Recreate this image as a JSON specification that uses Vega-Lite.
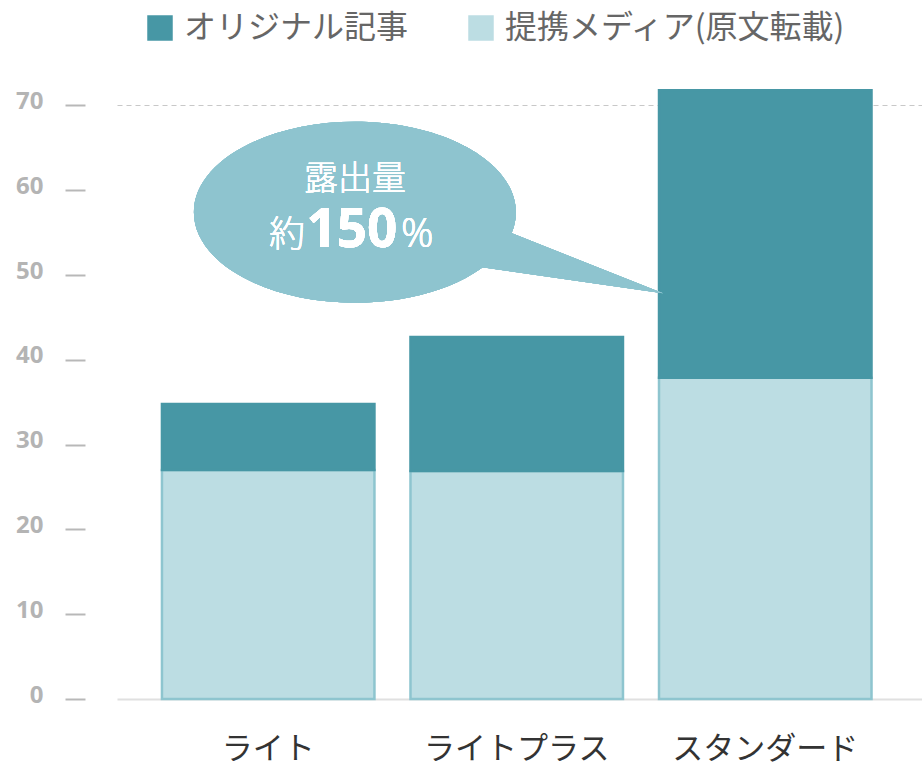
{
  "$schema": "https://vega.github.io/schema/vega-lite/v6.json",
  "width": 805,
  "height": 619,
  "autosize": "none",
  "padding": {"left": 117, "top": 80, "right": 0, "bottom": 68},
  "background": "white",
  "config": {"view": {"stroke": null}, "font": "Noto Sans CJK JP"},
  "data": {
    "values": [
      {"plan": "ライト", "series": "提携メディア(原文転載)", "value": 27.0},
      {"plan": "ライト", "series": "オリジナル記事", "value": 7.8},
      {"plan": "ライトプラス", "series": "提携メディア(原文転載)", "value": 26.9},
      {"plan": "ライトプラス", "series": "オリジナル記事", "value": 15.8},
      {"plan": "スタンダード", "series": "提携メディア(原文転載)", "value": 37.9},
      {"plan": "スタンダード", "series": "オリジナル記事", "value": 33.9}
    ]
  },
  "layer": [
    {
      "mark": {"type": "bar", "strokeWidth": 2.5},
      "encoding": {
        "x": {
          "field": "plan",
          "type": "nominal",
          "sort": ["ライト", "ライトプラス", "スタンダード"],
          "scale": {"paddingInner": 0.145, "paddingOuter": 0.192, "align": 0.471},
          "axis": {
            "title": null,
            "labelAngle": 0,
            "ticks": false,
            "tickSize": 0,
            "labelPadding": 35,
            "labelFontSize": 31,
            "labelLimit": 0,
            "labelColor": "#333333",
            "labelFont": "Noto Sans CJK JP",
            "domainColor": "#e0e0e0",
            "domainWidth": 2
          }
        },
        "y": {
          "field": "value",
          "type": "quantitative",
          "stack": "zero",
          "scale": {"domain": [0, 73], "nice": false},
          "axis": {
            "title": null,
            "values": [0, 10, 20, 30, 40, 50, 60, 70],
            "offset": 32,
            "tickSize": 20,
            "tickWidth": 2,
            "tickColor": "#b8b8b8",
            "domain": false,
            "labelPadding": 22,
            "labelOffset": -4,
            "labelFont": "Noto Sans",
            "labelFontSize": 24,
            "labelFontWeight": "bold",
            "labelColor": "#b4b4b4",
            "grid": true,
            "gridDash": [5, 4],
            "gridWidth": 1.2,
            "gridColor": {"condition": {"test": "datum.value === 70", "value": "#c8c8c8"}, "value": "transparent"}
          }
        },
        "color": {
          "field": "series",
          "type": "nominal",
          "scale": {"domain": ["オリジナル記事", "提携メディア(原文転載)"], "range": ["#4797A5", "#BCDDE3"]},
          "legend": {
            "title": null,
            "orient": "none",
            "legendX": 27,
            "legendY": -68,
            "direction": "horizontal",
            "symbolType": "square",
            "symbolSize": 650,
            "symbolStrokeWidth": 0,
            "labelFontSize": 32,
            "labelColor": "#666666",
            "labelLimit": 0,
            "labelOffset": 8,
            "columnPadding": 56,
            "padding": 0
          }
        },
        "stroke": {
          "field": "series",
          "type": "nominal",
          "scale": {"domain": ["オリジナル記事", "提携メディア(原文転載)"], "range": ["#4797A5", "#8EC5CF"]},
          "legend": null
        },
        "order": {"field": "series", "sort": "descending"}
      }
    },
    {
      "mark": {
        "type": "point",
        "shape": "M 1.61 0 C 1.61 0.5 0.889 0.905 0 0.905 C -0.889 0.905 -1.61 0.5 -1.61 0 C -1.61 -0.5 -0.889 -0.905 0 -0.905 C 0.889 -0.905 1.61 -0.5 1.61 0 Z M 1.57 0.21 L 3.08 0.81 L 1.27 0.55 Z",
        "size": 40000,
        "filled": true,
        "color": "#8EC4CF",
        "opacity": 1,
        "strokeWidth": 0
      },
      "encoding": {
        "x": {"datum": "ライト", "bandPosition": 0.908},
        "y": {"datum": 57.4}
      }
    },
    {
      "mark": {"type": "text", "text": "露出量", "fontSize": 34, "fontWeight": 300, "color": "white", "baseline": "middle", "align": "center", "font": "Noto Sans CJK JP"},
      "encoding": {
        "x": {"datum": "ライト", "bandPosition": 0.908},
        "y": {"datum": 61.2}
      }
    },
    {
      "mark": {"type": "text", "text": "約", "fontSize": 36, "fontWeight": 300, "color": "white", "baseline": "alphabetic", "align": "right", "font": "Noto Sans CJK JP"},
      "encoding": {
        "x": {"datum": "ライト", "bandPosition": 0.673},
        "y": {"datum": 53.3}
      }
    },
    {
      "mark": {"type": "text", "text": "150", "fontSize": 53, "fontWeight": "bold", "color": "white", "baseline": "alphabetic", "align": "left", "font": "Noto Sans"},
      "encoding": {
        "x": {"datum": "ライト", "bandPosition": 0.68},
        "y": {"datum": 53.3}
      }
    },
    {
      "mark": {"type": "text", "text": "%", "fontSize": 40, "fontWeight": 300, "color": "white", "baseline": "alphabetic", "align": "left", "font": "Noto Sans"},
      "encoding": {
        "x": {"datum": "ライト", "bandPosition": 1.125},
        "y": {"datum": 53.3}
      }
    }
  ]
}
